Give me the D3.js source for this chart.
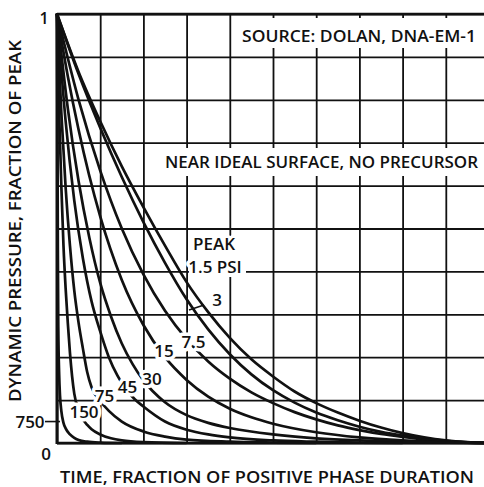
<!DOCTYPE html>
<html><head><meta charset="utf-8">
<script src="https://cdn.jsdelivr.net/npm/d3@7"></script>
<style>html,body{margin:0;padding:0;background:#fff;overflow:hidden}svg{display:block}
text{font-family:"Open Sans","DejaVu Sans",sans-serif;font-weight:600;fill:#111}</style>
</head><body><svg id="c" width="484" height="487"></svg>
<script>
// ---- data (time fraction, dynamic pressure fraction) ----
const peakLabels = ["1.5","3","7.5","15","30","45","75","150","750"];
const curve1_5 = [[0,1],[0.05,0.865],[0.1,0.75],[0.15,0.645],[0.2,0.55],[0.25,0.46],[0.3,0.375],[0.35,0.305],[0.4,0.245],[0.45,0.195],[0.5,0.155],[0.55,0.12],[0.6,0.093],[0.65,0.071],[0.7,0.052],[0.75,0.036],[0.8,0.023],[0.85,0.013],[0.9,0.006],[0.95,0.002],[1,0]];
const curve3 = [[0,1],[0.05,0.86],[0.1,0.735],[0.15,0.62],[0.2,0.515],[0.25,0.42],[0.3,0.335],[0.35,0.265],[0.4,0.207],[0.45,0.16],[0.5,0.123],[0.55,0.094],[0.6,0.071],[0.65,0.053],[0.7,0.038],[0.75,0.026],[0.8,0.017],[0.85,0.01],[0.9,0.005],[0.95,0.0015],[1,0]];
const curve7_5 = [[0,1],[0.05,0.8],[0.1,0.635],[0.15,0.5],[0.2,0.393],[0.25,0.308],[0.3,0.242],[0.35,0.19],[0.4,0.15],[0.45,0.118],[0.5,0.093],[0.55,0.072],[0.6,0.055],[0.65,0.041],[0.7,0.03],[0.75,0.021],[0.8,0.014],[0.85,0.008],[0.9,0.004],[0.95,0.001],[1,0]];
const curve15 = [[0,1],[0.025,0.855],[0.05,0.73],[0.1,0.528],[0.15,0.38],[0.2,0.275],[0.25,0.2],[0.3,0.147],[0.35,0.108],[0.4,0.08],[0.45,0.06],[0.5,0.045],[0.6,0.025],[0.7,0.013],[0.8,0.006],[0.9,0.002],[1,0]];
const curve30 = [[0,1],[0.025,0.78],[0.05,0.61],[0.075,0.478],[0.1,0.373],[0.125,0.295],[0.15,0.232],[0.175,0.184],[0.2,0.146],[0.25,0.095],[0.3,0.065],[0.35,0.047],[0.4,0.035],[0.5,0.02],[0.6,0.011],[0.7,0.006],[0.8,0.003],[0.9,0.001],[1,0]];
const curve45 = [[0,1],[0.02,0.75],[0.04,0.565],[0.06,0.43],[0.08,0.33],[0.1,0.26],[0.12,0.2],[0.14,0.157],[0.16,0.125],[0.18,0.102],[0.2,0.085],[0.25,0.05],[0.3,0.031],[0.35,0.02],[0.4,0.013],[0.5,0.006],[0.6,0.003],[0.7,0.001],[0.8,0]];
const curve75 = [[0,1],[0.01,0.77],[0.02,0.595],[0.03,0.46],[0.04,0.355],[0.05,0.28],[0.06,0.22],[0.07,0.165],[0.08,0.13],[0.1,0.098],[0.12,0.075],[0.15,0.05],[0.2,0.027],[0.25,0.015],[0.3,0.008],[0.4,0.003],[0.5,0.001],[0.6,0]];
const curve150 = [[0,1],[0.005,0.77],[0.01,0.6],[0.015,0.46],[0.02,0.36],[0.025,0.28],[0.03,0.21],[0.035,0.155],[0.04,0.115],[0.05,0.075],[0.06,0.055],[0.07,0.042],[0.08,0.032],[0.1,0.02],[0.125,0.011],[0.15,0.006],[0.2,0.002],[0.3,0]];
const curve750 = [[0,1],[0.001,0.75],[0.002,0.45],[0.003,0.27],[0.005,0.16],[0.007,0.11],[0.01,0.075],[0.015,0.047],[0.02,0.034],[0.03,0.02],[0.04,0.012],[0.05,0.007],[0.07,0.003],[0.1,0.001],[0.15,0]];
const xGrid = [0,0.1,0.2,0.3,0.4,0.5,0.6,0.7,0.8,0.9];
const yGrid = [0,0.1,0.2,0.3,0.4,0.5,0.6,0.7,0.8,0.9,1];
const yTickLabels = ["0","1"];
const curves = [curve1_5,curve3,curve7_5,curve15,curve30,curve45,curve75,curve150,curve750];

// ---- drawing ----
const svg = d3.select("#c");
const x = d3.scaleLinear().domain([0,1]).range([57,489]);
const y = d3.scaleLinear().domain([0,1]).range([443,14]);

// grid via axes
svg.append("g").attr("transform","translate(0,443)")
  .call(d3.axisBottom(x).tickValues(xGrid).tickSize(-429).tickFormat(""))
  .call(g=>{g.select(".domain").remove();g.selectAll("line").attr("stroke","#111").attr("stroke-width",1.8);});
svg.append("g").attr("transform","translate(57,0)")
  .call(d3.axisLeft(y).tickValues(yGrid).tickSize(-430).tickFormat(""))
  .call(g=>{g.select(".domain").remove();g.selectAll("line").attr("stroke","#111").attr("stroke-width",1.8);});
// heavier frame edges
svg.append("line").attr("x1",x(0)).attr("x2",x(0)).attr("y1",y(1)-1).attr("y2",y(0)+1).attr("stroke","#111").attr("stroke-width",3);
svg.append("line").attr("x1",x(0)).attr("x2",484).attr("y1",y(0)).attr("y2",y(0)).attr("stroke","#111").attr("stroke-width",2.6);
svg.append("line").attr("x1",x(0)).attr("x2",484).attr("y1",y(1)).attr("y2",y(1)).attr("stroke","#111").attr("stroke-width",2.4);

// white boxes behind notes
svg.append("rect").attr("x",232).attr("y",18).attr("width",260).attr("height",30).attr("fill","#fff");
svg.append("rect").attr("x",152).attr("y",148).attr("width",340).attr("height",28).attr("fill","#fff");
svg.append("rect").attr("x",189).attr("y",236).attr("width",57).attr("height",41).attr("fill","#fff");

// curves
const line = d3.line().x(d=>x(d[0])).y(d=>y(d[1])).curve(d3.curveMonotoneX);
svg.append("g").selectAll("path").data(curves).join("path")
  .attr("d",line).attr("fill","none").attr("stroke","#111").attr("stroke-width",2.7)
  .attr("stroke-linejoin","round");

// leaders
svg.append("line").attr("x1",189).attr("y1",310).attr("x2",204).attr("y2",305).attr("stroke","#111").attr("stroke-width",1.6);
svg.append("line").attr("x1",45).attr("y1",y(0.05)).attr("x2",60).attr("y2",y(0.05)).attr("stroke","#111").attr("stroke-width",1.6);

// notes
function txt(s,xx,yy,opt={}){
  const t = svg.append("text").attr("x",xx).attr("y",yy).text(s)
    .attr("font-size",opt.size||17);
  if(opt.len){t.attr("textLength",opt.len).attr("lengthAdjust","spacingAndGlyphs");}
  if(opt.anchor) t.attr("text-anchor",opt.anchor);
  if(opt.halo){t.attr("stroke","#fff").attr("stroke-width",opt.halo).attr("paint-order","stroke").attr("stroke-linejoin","round");}
  if(opt.rot) t.attr("transform",opt.rot);
  return t;
}
txt("SOURCE: DOLAN, DNA-EM-1",242,42,{size:16,len:234});
txt("NEAR IDEAL SURFACE, NO PRECURSOR",165,168,{size:16,len:313});
txt("PEAK",214,250,{anchor:"middle",halo:6});
txt(peakLabels[0]+" PSI",215,273,{anchor:"middle",halo:7});
const curveLabelPos = [[217,306],[193.5,348],[164,357],[152,385],[127.5,393],[104.5,402],[84,418]];
peakLabels.slice(1,8).forEach((s,i)=>txt(s,curveLabelPos[i][0],curveLabelPos[i][1],{anchor:"middle",halo:7}));
txt(peakLabels[8],30,428,{anchor:"middle"});
// axis values
txt(yTickLabels[1],44,24,{anchor:"middle",size:16});
txt(yTickLabels[0],46,460,{anchor:"middle",size:17});
// axis titles
txt("TIME, FRACTION OF POSITIVE PHASE DURATION",60,483,{size:16,len:414});
txt("DYNAMIC PRESSURE, FRACTION OF PEAK",0,0,{size:16,len:362,rot:"translate(21,402) rotate(-90)"});
</script></body></html>
